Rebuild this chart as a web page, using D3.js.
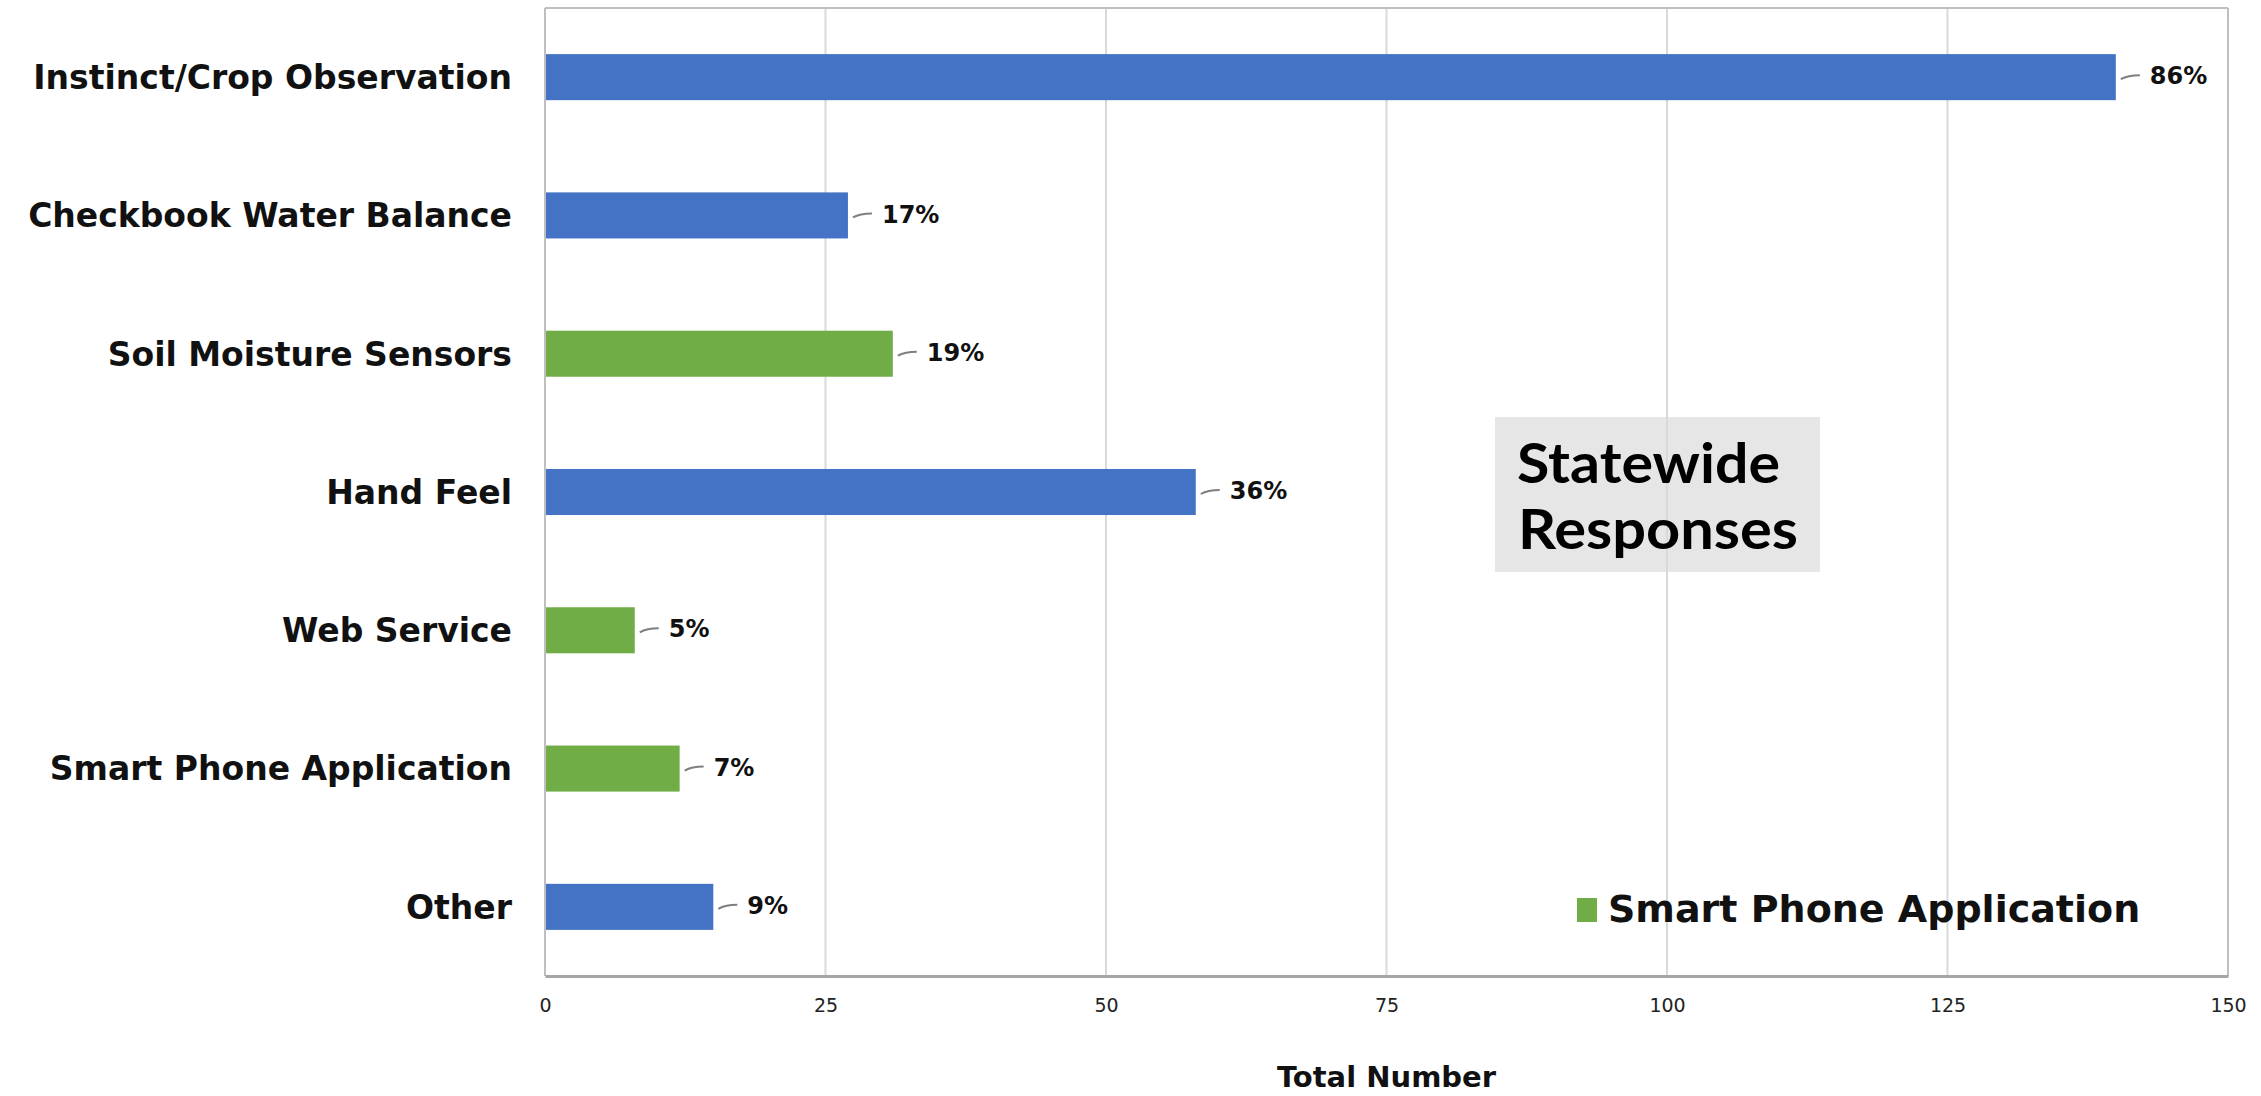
<!DOCTYPE html>
<html>
<head>
<meta charset="utf-8">
<script src="https://cdn.jsdelivr.net/npm/d3@7"></script>
<style>
  body { margin: 0; background: #fff; }
  svg { display: block; }
</style>
</head>
<body>
<div id="chart"></div>
<script>
// data
const categories = ['Instinct/Crop Observation', 'Checkbook Water Balance', 'Soil Moisture Sensors',
                    'Hand Feel', 'Web Service', 'Smart Phone Application', 'Other'];
const totals     = [140, 27, 31, 58, 8, 12, 15];
const percents   = ['86%', '17%', '19%', '36%', '5%', '7%', '9%'];
const isTech     = [false, false, true, false, true, true, false];
const xTicks     = [0, 25, 50, 75, 100, 125, 150];

const width  = 2261;
const height = 1096;
const margin = {top: 8, right: 33, bottom: 120, left: 545};
const blue   = '#4472c4';
const green  = '#70ad47';
const labelFont = '"DejaVu Sans", Verdana, sans-serif';

const data = categories.map((c, i) => ({cat: c, value: totals[i], pct: percents[i], tech: isTech[i]}));

const svg = d3.select('#chart')
  .append('svg')
  .attr('width', width)
  .attr('height', height);

const xScale = d3.scaleLinear()
  .domain([0, 150])
  .range([margin.left, width - margin.right]);

const yScale = d3.scaleBand()
  .domain(categories)
  .range([margin.top, height - margin.bottom])
  .paddingInner(0.667)
  .paddingOuter(0.3335);

const plotBottom = height - margin.bottom;

// annotation box (drawn below the grid, the grid shows through it)
svg.append('rect')
  .attr('x', 1495).attr('y', 417)
  .attr('width', 325).attr('height', 155)
  .style('fill', '#e6e6e6');

// gridlines
svg.append('g')
  .selectAll('line')
  .data(xTicks)
  .enter()
  .append('line')
    .attr('x1', d => xScale(d)).attr('x2', d => xScale(d))
    .attr('y1', margin.top).attr('y2', plotBottom)
    .style('stroke', d => (d === 0 || d === 150) ? '#bfbfbf' : '#d9d9d9')
    .style('stroke-width', 2);

// top border
svg.append('line')
  .attr('x1', xScale(0)).attr('x2', xScale(150))
  .attr('y1', margin.top).attr('y2', margin.top)
  .style('stroke', '#bfbfbf').style('stroke-width', 2);

// x-axis
const xAxis = svg.append('g')
  .attr('class', 'x-axis')
  .attr('transform', `translate(0, ${plotBottom})`)
  .call(d3.axisBottom(xScale).tickValues(xTicks).tickSize(0).tickPadding(23));
xAxis.select('.domain')
  .style('stroke', '#a6a6a6')
  .style('stroke-width', 3);
xAxis.selectAll('text')
  .style('font-family', labelFont)
  .style('font-size', '19px')
  .style('fill', '#222');

// y-axis labels
svg.append('g')
  .selectAll('text')
  .data(data)
  .enter()
  .append('text')
    .attr('x', margin.left - 33)
    .attr('y', d => yScale(d.cat) + yScale.bandwidth() / 2)
    .attr('dy', '0.36em')
    .style('text-anchor', 'end')
    .style('font-family', labelFont)
    .style('font-weight', 'bold')
    .style('font-size', '33px')
    .style('fill', '#111')
    .text(d => d.cat);

// bars
svg.append('g')
  .selectAll('rect')
  .data(data)
  .enter()
  .append('rect')
    .attr('x', xScale(0) + 1)
    .attr('y', d => yScale(d.cat))
    .attr('width', d => xScale(d.value) - xScale(0) - 1)
    .attr('height', yScale.bandwidth())
    .style('fill', d => d.tech ? green : blue);

// leader lines + percent labels
const labels = svg.append('g')
  .selectAll('g')
  .data(data)
  .enter()
  .append('g')
    .attr('transform', d => `translate(${xScale(d.value)}, ${yScale(d.cat) + yScale.bandwidth() / 2})`);

labels.append('path')
  .attr('d', 'M5,2 Q12,-2 24,-2')
  .style('fill', 'none')
  .style('stroke', '#7f7f7f')
  .style('stroke-width', 2);

labels.append('text')
  .attr('x', 34)
  .attr('dy', '0.3em')
  .style('font-family', labelFont)
  .style('font-weight', 'bold')
  .style('font-size', '24px')
  .style('fill', '#111')
  .text(d => d.pct);

// x-axis title
svg.append('text')
  .attr('x', (xScale(0) + xScale(150)) / 2)
  .attr('y', 1087)
  .style('text-anchor', 'middle')
  .style('font-family', labelFont)
  .style('font-weight', 'bold')
  .style('font-size', '29px')
  .style('fill', '#111')
  .text('Total Number');

// annotation text
const note = svg.append('text')
  .style('font-family', 'Lato, "Open Sans", sans-serif')
  .style('font-weight', 'bold')
  .style('font-size', '56px')
  .style('fill', '#000');
note.append('tspan').attr('x', 1517).attr('y', 483)
  .attr('textLength', 263).attr('lengthAdjust', 'spacingAndGlyphs').text('Statewide');
note.append('tspan').attr('x', 1518).attr('y', 549)
  .attr('textLength', 280).attr('lengthAdjust', 'spacingAndGlyphs').text('Responses');

// legend
svg.append('rect')
  .attr('x', 1577).attr('y', 898)
  .attr('width', 20).attr('height', 24)
  .style('fill', green);
svg.append('text')
  .attr('x', 1608)
  .attr('y', 908)
  .attr('dy', '0.36em')
  .style('font-family', labelFont)
  .style('font-weight', 'bold')
  .style('font-size', '38px')
  .style('fill', '#111')
  .text('Smart Phone Application');
</script>
</body>
</html>
